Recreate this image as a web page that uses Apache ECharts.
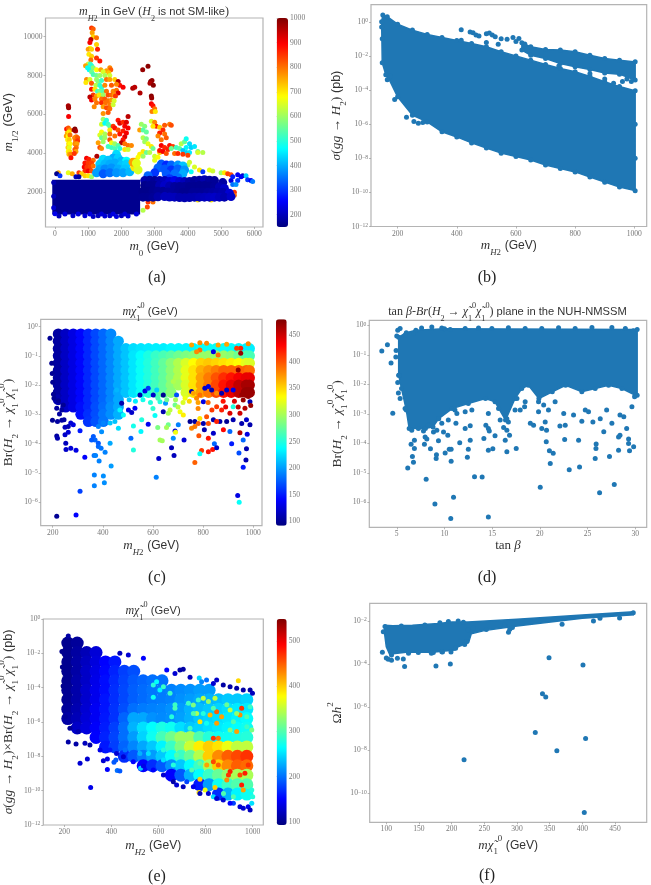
<!DOCTYPE html>
<html><head><meta charset="utf-8">
<style>html,body{margin:0;padding:0;background:#fff}#c{width:651px;height:885px;filter:blur(.45px)}</style>
<script src="https://cdn.jsdelivr.net/npm/echarts@6/dist/echarts.min.js"></script>
</head><body><div id="c"></div>
<script>
// ---------- tick labels ----------
const aTicksX=[0,1000,2000,3000,4000,5000,6000];
const aTicksY=[2000,4000,6000,8000,10000];
const aBarTicks=[200,300,400,500,600,700,800,900,1000];
const mTicks=[200,400,600,800,1000];
const bTicksY=[-12,-10,-8,-6,-4,-2,0];
const cTicksY=[-6,-5,-4,-3,-2,-1,0];
const cBarTicks=[100,150,200,250,300,350,400,450];
const dTicksX=[5,10,15,20,25,30];
const eBarTicks=[100,200,300,400,500];
const fTicksX=[100,150,200,250,300,350,400,450];
const fTicksY=[-10,-8,-6,-4,-2];

// ---------- panel (a): m0, m1/2, mH2 ----------
const aDots=[[400,6450,960],[410,6350,980],[405,6400,970],[410,5900,900],[350,5250,880],[400,5300,820],[450,5200,780],[370,5050,740],[420,5100,700],[340,4900,760],[400,4900,680],[450,4950,800],[380,4700,690],[430,4700,720],[410,4500,700],[450,4500,680],[390,4300,720],[430,4300,660],[400,4100,680],[440,4100,700],[420,3950,740],[470,3950,780],[480,3780,880],[600,5250,1000],[620,5150,950],[580,5200,980],[640,4850,800],[590,4800,780],[680,4800,820],[620,4650,800],[680,4650,850],[600,4500,780],[660,4500,760],[640,4300,800],[600,4200,820],[630,4100,760],[580,4000,850],
[1100,10450,850],[1150,10400,820],[1120,10200,760],[1150,10000,720],[1250,9950,800],[1080,9850,950],[1050,9700,900],[1250,9600,720],[1050,9400,680],[1000,9350,760],[1100,9350,720],[1280,9350,870],[1020,9100,700],[1100,9000,720],[1080,8800,800],[1250,8900,850],[1350,8750,880],[1000,8600,640],[1060,8600,520],[920,8500,760],[980,8400,480],[1100,8500,500],[1030,8300,470],[1150,8400,580],[1100,8200,560],[1250,8300,680],[1380,8300,760],[1650,8400,780],[1680,8300,820],[1550,8250,760],[1450,8200,650],[1620,8150,730],[1150,8050,530],[1250,8000,560],[1350,8000,600],[1500,8000,610],[1650,8000,640],[950,7800,780],[1050,7800,650],[1250,7800,600],[1300,7700,580],[1400,7750,520],[1550,7800,800],[1650,7800,760],[1800,7800,720],[930,7650,700],[1100,7600,820],[1230,7500,620],[1350,7500,510],[1400,7400,500],[1500,7500,780],[1700,7500,820],[1900,7700,950],[1950,7500,880],[1850,7550,780],[2050,7400,900],[1100,7300,880],[1200,7300,700],[1280,7200,520],[1350,7200,560],[1450,7200,540],[1550,7200,800],[1750,7200,780],[1850,7250,800],[1900,7100,920],[1150,7000,850],[1050,6900,950],[1250,6950,760],[1330,7000,700],[1450,7000,600],[1600,7000,830],[1700,7000,810],[1780,7000,770],[1820,6950,850],[1100,6750,900],[1200,6800,780],[1400,6800,800],[1500,6800,820],[1600,6700,800],[1700,6750,770],[1780,6700,650],[1250,6600,800],[1400,6600,860],[1520,6600,800],[1650,6500,790],[1750,6500,640],[1450,6400,760],[1550,6350,830],[1650,6300,800],[1180,6400,780],[1600,6100,820],[1450,6050,770],
[2640,8300,980],[2800,8480,990],[2880,7700,1000],[2920,7750,980],[2860,7600,960],[2960,7500,990],[2340,7350,960],[2400,7400,950],[2560,7100,960],[2900,6950,990],[2910,6850,980],[2900,6550,900],[2950,6450,880],[3000,6300,800],[2920,6150,790],[3020,6150,700],
[1450,5750,600],[1550,5700,500],[1400,5500,640],[1500,5550,470],[1600,5500,520],[1650,5400,540],[1750,5400,850],[1900,5700,880],[1950,5550,920],[2050,5600,860],[2150,5600,920],[2200,5900,950],[2100,5400,900],[1800,5300,880],[2200,5300,900],[1900,5200,830],[2050,5150,870],[2150,5050,900],[1950,5000,880],[1650,5200,700],[1400,5100,680],[1500,5000,610],[1350,4950,650],[1650,5000,800],[1800,4900,800],[2100,4850,920],[1400,4800,560],[1500,4800,600],[2050,4700,880],[2000,4550,950],[1450,4600,600],[1650,4700,830],[1700,4550,670],[1800,4500,600],[1900,4400,540],[2100,4500,800],[2200,4400,800],[2300,4400,780],[1350,4300,830],[1400,4250,780],[1600,4350,520],[1700,4300,520],[1800,4250,530],[1950,4250,500],[2100,4200,700],[2200,4200,640],[1300,4550,760],
[950,3750,900],[1020,3700,870],[1150,3650,800],[900,3500,880],[1000,3500,850],[1100,3500,840],[880,3300,900],[960,3300,850],[1060,3300,840],[1150,3350,800],[900,3100,860],[1000,3100,900],[1100,3100,830],[1260,3850,960],
[400,3000,660],[520,2950,750],[100,3000,750],[720,3000,850],[800,2950,720],[900,2850,720],[1000,2850,700],[1100,2800,600],[50,2950,160],[150,2850,300],[630,2800,200],[720,2800,180],
[2600,5500,600],[2700,5400,580],[2550,5200,760],[2650,5200,540],[2750,5100,550],[2900,5650,650],[3000,5600,780],[3050,5400,870],[2950,5400,700],[3150,5350,720],[3300,5450,820],[3450,5500,790],[3500,5450,830],[3250,5200,860],[3150,5050,870],[3300,5000,800],[3100,4900,780],[3350,4800,820],[3200,4700,800],[2650,4800,620],[2750,4750,570],[2700,4600,600],[2800,4500,660],[2900,4350,700],[2950,4250,560],[2650,4100,700],[2750,4050,560],[2850,4050,620],[2550,3950,690],[2650,3850,600],[2500,3800,680],[2400,3650,720],[3000,3850,640],[3100,3800,680],[3000,3650,660],[3150,4050,720],
[3200,4400,900],[3300,4300,860],[3150,4150,880],[3250,4100,900],[3400,4200,870],[3450,4400,880],[3550,4350,840],[3350,4000,830],[3600,4000,800],[3500,4250,560],[3650,4300,520],[3750,4250,540],[3800,4500,620],[3900,4600,560],[3950,4750,480],[4050,4500,440],[3950,4300,460],[4100,4300,430],[3850,4150,420],[3950,4050,430],[4050,4050,450],[4200,4350,450],[3700,4000,860],[3850,3950,850],[4000,3900,840],[4300,4100,560],[4450,4050,620],[4300,4050,650],
[4100,3050,480],[4200,3300,650],[4000,3400,600],[4050,3550,640],[4350,3150,700],[4450,3050,300],[4650,3150,660],[4750,3100,640],[5000,3000,600],[5100,3000,700],[5200,2950,840],[5300,2900,830],[5500,2900,250],[5650,2850,200],[5750,2850,430],[5800,2650,300],[5900,2600,250],[5950,2550,360],[5300,2600,230],[5500,2600,300],[5350,2400,350],[5450,2400,380],[5350,2800,280],[5600,2800,250],
[2800,1500,850],[2950,1500,800],[5400,2000,850],[5400,1850,800],[2650,1080,620],[2780,1250,830],[4300,1600,700],[4700,1600,700]];
const aBlobs=[[1850,3950,440],[1750,3750,400],[1900,3750,430],[1450,3700,440],[1600,3650,420],[2000,3600,410],[2150,3600,470],[1350,3450,430],[1500,3450,410],[1650,3450,400],[1800,3500,400],[2000,3400,420],[2150,3450,430],[1350,3200,400],[1500,3200,370],[1700,3250,380],[1900,3200,400],[2100,3200,420],[1250,3000,390],[1450,2950,330],[1650,3000,350],[1850,3000,380],[2050,3000,390],[2250,3050,410],[2400,3300,700],[2500,3150,650],[2350,3550,760],[2450,3500,660],
[3200,3450,330],[3350,3400,290],[3500,3400,340],[3700,3400,380],[3850,3350,420],[3100,3250,340],[3300,3200,330],[3500,3150,300],[3700,3200,340],[3900,3150,380],[3000,3000,300],[3350,2950,330],[3600,2950,350],[3850,2950,400],[2800,2850,340],[3450,2700,300],[3700,2750,350],
[2700,2600,190],[2850,2620,180],[3000,2600,170],[3150,2600,185],[3300,2600,200],[3450,2560,220],[3600,2600,240],[3750,2560,220],[3900,2550,200],[4050,2560,180],[4200,2600,170],[4350,2620,175],[4500,2650,190],[4650,2620,175],[4800,2600,170],[5050,2500,180],
[2700,2350,160],[2850,2350,165],[3000,2350,165],[3150,2350,190],[3300,2350,210],[3450,2320,190],[3600,2300,175],[3750,2300,170],[3900,2300,170],[4050,2300,165],[4200,2300,165],[4350,2350,165],[4500,2350,165],[4650,2320,165],[4800,2300,170],[4950,2280,190],[5100,2200,210],
[2650,2050,160],[2800,2050,160],[2950,2050,165],[3100,2050,170],[3250,2050,170],[3400,2020,175],[3550,2000,175],[3700,2000,170],[3850,2000,165],[4000,2000,165],[4150,2000,170],[4300,2000,170],[4450,2000,170],[4600,2000,175],[4750,2000,180],[4900,2000,185],[5050,2000,190],[5250,1950,220],
[2650,1750,165],[2800,1750,165],[2950,1750,170],[3100,1770,185],[3300,1780,200],[3450,1760,200],[3600,1750,200],[3750,1730,190],[3900,1720,190],[4050,1730,190],[4200,1750,190],[4350,1750,195],[4500,1750,200],[4650,1750,205],[4800,1750,210],[4950,1750,200],[5100,1750,190],[5300,1780,210]];
const aEdge=[[120,780,200],[540,800,210],[900,800,220],[1150,760,210],[1300,800,200],[1500,780,220],[1650,800,210],[1850,760,230],[2000,800,200],[2200,780,220],[300,880,230],[700,880,230],[1050,880,230],[1400,880,220],[1750,880,230],[2100,880,220],[2450,880,230],[0,900,240],[-40,1200,220],[-40,1800,200],[-40,2500,190]];
const aSolid=[[-60,2600],[2540,2600],[2540,900],[-60,900]];

// ---------- panel (b): mH2, log10 sigma ----------
const bMain=[[150,.4],[165,.3],[200,-.14],[250,-.49],[300,-.74],[350,-.92],[400,-1.1],[450,-1.27],[500,-1.47],[550,-1.76],[600,-2],[650,-2.25],[700,-2.5],[750,-2.74],[800,-2.93],[850,-3.2],[900,-3.52],[950,-3.8],[1003,-4.05],[1003,-9.9],[950,-9.69],[900,-9.4],[850,-9.1],[800,-8.8],[750,-8.6],[700,-8.4],[650,-8.1],[600,-7.9],[550,-7.7],[500,-7.4],[450,-7.1],[400,-6.75],[350,-6.45],[300,-5.87],[250,-5.48],[200,-4.4],[170,-3.33],[160,-3.1],[148,-2.4],[146,0]];
const bStrip=[[620,-1.23],[650,-1.47],[700,-1.62],[750,-1.66],[800,-1.76],[850,-1.96],[900,-2.15],[950,-2.25],[1003,-2.35],[1003,-3.42],[950,-3.07],[900,-3],[850,-2.8],[800,-2.64],[750,-2.45],[700,-2.15],[650,-1.96],[620,-1.66]];
const bDots=[[415,-.47],[445,-.6],[455,-.65],[465,-.78],[475,-.84],[500,-.7],[510,-.66],[520,-.78],[530,-.88],[550,-1],[570,-1.02],[590,-.92],[610,-.98],[600,-1.15],[630,-1.3],[500,-1.22],[540,-1.32],[415,-1.08],[230,-5.6],[255,-5.85],[270,-5.95],[285,-5.9],[175,-3.2],[190,-4.55],[165,-3.4],[745,-2.6],[850,-3.05],[960,-3.5],[975,-3.35],[990,-3.5],[900,-3.35],[930,-3.6],[1003,-6],[1003,-8],[148,-1],[146,-.3]];

// ---------- panel (c): mH2, log10 Br, m chi ----------
const cColumns=[222,252,282,312,342,372,402,432,462,492,522,552,582,612,642,672,702,732,762,792,822,852,882,912,942,972,985];
const cRows=[-.25,-.5,-.75,-1,-1.25,-1.5,-1.75,-2,-2.25,-2.5,-2.75,-3,-3.25];
const cTable=[
[105,118,130,142,155,168,180,192,0,0,0,0,0,0,0,0,0,0,0,0,0,0,0,0,0,0,0],
[105,118,130,142,155,168,180,192,205,0,0,0,0,0,0,0,0,0,0,0,0,0,0,0,0,0,0],
[105,118,130,142,155,168,180,192,205,215,225,228,230,232,232,235,235,235,235,240,240,240,240,238,235,232,232],
[105,118,130,142,155,168,180,192,205,215,228,238,248,258,265,272,280,285,290,295,295,295,295,290,280,270,265],
[105,118,130,142,155,168,180,192,205,215,228,240,250,262,275,290,305,320,335,350,355,350,345,340,335,325,320],
[105,118,130,142,155,168,180,192,205,215,228,240,250,262,275,290,305,325,345,365,375,385,395,395,395,395,390],
[105,118,130,142,155,168,180,192,205,215,228,240,250,262,275,290,305,325,345,370,385,400,415,425,435,440,440],
[105,118,130,142,155,168,180,192,205,215,228,240,250,262,275,290,300,320,345,370,385,405,425,440,455,465,465],
[105,118,130,142,155,168,180,192,205,215,228,240,250,262,275,290,0,320,345,370,385,405,425,440,455,470,470],
[110,118,130,142,155,168,180,192,205,0,0,0,0,0,0,0,0,0,0,0,0,0,0,0,0,0,0],
[0,120,130,145,155,170,182,195,205,0,0,0,0,0,0,0,0,0,0,0,0,0,0,0,0,0,0],
[0,0,0,145,158,170,185,195,208,0,0,0,0,0,0,0,0,0,0,0,0,0,0,0,0,0,0],
[0,0,0,0,160,172,185,0,0,0,0,0,0,0,0,0,0,0,0,0,0,0,0,0,0,0,0]];
const cDots=[[189,-.4,100],[196,-1.25,100],[198,-1.6,100],[200,-1.9,100],[203,-2.31,100],[205,-2.45,100],[223,-2.54,100],[242,-2.68,100],[216,-2.79,105],[236,-2.85,105],[227,-2.99,105],[199,-3.2,100],[219,-3.25,105],[236,-3.2,105],[245,-3.19,105],[262,-3.42,110],[249,-3.44,115],[282,-3.36,130],[272,-3.3,125],[216,-3.74,105],[219,-3.82,110],[252,-3.99,115],[262,-3.61,125],[249,-3.7,120],[309,-3.56,150],[253,-4.2,120],[272,-4.16,125],[293,-4.23,130],[328,-4.47,140],[362,-3.76,175],[369,-3.88,180],[355,-3.88,175],[382,-3.99,175],[382,-4.1,180],[393,-4.16,185],[409,-4.3,190],[365,-4.41,185],[371,-4.41,190],[385,-4.6,190],[433,-4.77,200],[366,-5.08,190],[402,-5.11,195],[366,-5.44,190],[406,-5.34,195],[309,-5.63,165],[216,-6.49,100],[293,-6.44,140],[382,-3.42,190],[402,-3.3,190],[429,-3.99,205],[395,-3.6,195],[462,-3.48,225],[448,-3.25,215],[429,-3.3,215],[482,-3.02,240],[512,-3.82,180],[522,-3.4,245],[522,-4.22,250],[468,-2.85,235],[455,-2.17,210],[475,-2.62,110],[502,-2.85,130],[528,-2.79,140],[548,-2.34,110],[568,-2.2,130],[581,-2.11,160],[515,-2.94,120],[555,-3.19,250],[581,-3.34,135],[552,-3.59,235],[608,-3.04,240],[619,-3.45,285],[615,-2.17,220],[601,-2.34,120],[641,-2.34,100],[650,-2.62,200],[628,-2.57,250],[641,-2.91,110],[661,-2.96,300],[668,-2.85,310],[688,-2.68,280],[708,-2.91,330],[721,-3.02,340],[661,-3.36,280],[654,-3.45,300],[628,-3.88,300],[637,-3.9,300],[613,-5.15,190],[623,-4.51,120],[674,-4.14,115],[684,-4.41,115],[681,-3.82,195],[688,-3.57,125],[690,-3.61,330],[701,-3.36,190],[724,-3.88,125],[681,-1.88,305],[694,-2.34,170],[728,-2.45,330],[754,-2.22,110],[761,-2.28,370],[774,-2.45,380],[787,-2.34,390],[807,-2.11,120],[821,-2.05,130],[834,-2.17,110],[854,-2.28,380],[874,-2.28,110],[894,-2.17,120],[920,-2.17,130],[801,-2.57,130],[854,-2.74,410],[874,-2.85,420],[907,-2.96,445],[947,-2.96,450],[967,-2.79,460],[954,-2.34,470],[980,-2.39,470],[960,-2.51,470],[987,-2.57,110],[920,-2.74,250],[748,-3.25,100],[767,-3.25,105],[801,-3.31,110],[841,-3.19,110],[867,-3.25,110],[894,-3.25,100],[920,-3.19,110],[954,-3.31,110],[987,-3.36,110],[973,-3.19,120],[787,-3.14,345],[814,-3.08,400],[821,-3.31,400],[781,-3.31,395],[754,-3.48,380],[767,-3.42,385],[805,-3.53,110],[854,-3.25,420],[881,-3.53,430],[907,-3.59,180],[947,-3.63,460],[976,-3.68,130],[960,-3.88,180],[841,-3.65,120],[821,-3.82,425],[783,-3.73,400],[845,-4.01,180],[794,-4.24,410],[821,-4.28,425],[838,-4.2,425],[854,-4.14,120],[914,-4.01,150],[787,-4.35,240],[767,-4.65,395],[943,-4.32,170],[973,-4.18,110],[971,-4.56,110],[960,-4.81,150],[938,-5.78,130],[944,-6.01,240],[950,-.74,420],[950,-.91,470],[934,-.74,410],[787,-.55,380],[754,-.63,370],[814,-.57,380],[860,-.63,370],[894,-.6,370],[980,-.59,380],[787,-.8,390],[860,-.97,390],[841,-.86,130],[940,-1.48,470],[774,-.86,380],
[505,-2.5,218],[530,-2.55,232],[560,-2.5,245],[590,-2.6,250],[620,-2.45,265],[655,-2.5,280],[690,-2.5,300],[720,-2.6,320],[745,-2.55,350],[780,-2.6,370],[820,-2.6,390],[880,-2.55,425],[925,-2.55,445],[990,-2.7,470],[600,-2.8,255],[700,-2.75,310],[780,-2.8,380],[835,-2.85,410],[890,-2.75,440],[940,-2.75,455]];

// ---------- panel (d): tan beta, log10 Br ----------
const dMain=[[5.2,-.4],[6,-.25],[7,-.17],[10,-.12],[30.2,-.14],[30.2,-2.37],[30,-2.37],[28.6,-2.14],[27.2,-2.03],[25.8,-2.14],[24.4,-2.25],[22.7,-2.03],[21.3,-2.25],[19.9,-2.48],[18.8,-2.03],[18.1,-2.14],[17.4,-2.48],[16.4,-3.21],[15.3,-2.59],[14.3,-2.48],[12.5,-2.65],[10.8,-2.82],[9.4,-3.16],[8.8,-3.44],[8,-3.49],[6.3,-3.49],[6,-2.87],[5.5,-2.14],[5.2,-1.69]];
const dDots=[[3.43,-.87],[4.02,-.66],[4.4,-1.28],[4.58,-2.98],[5.35,-.11],[5.1,-.17],[5,-.36],[4.93,-.85],[4.9,-1.07],[5.1,-1.94],[5.24,-1.69],[5.17,-2.29],[5.35,-2.48],[5.87,-2.82],[6.15,-4.83],[6.5,-4.03],[6.64,-4.44],[6.75,-4.64],[6.85,-4.17],[6.85,-3.89],[7.8,-3.58],[7.9,-4.03],[7.97,-3.78],[8.15,-3.85],[8.08,-5.21],[8.53,-4.18],[9,-6.05],[9.13,-4.51],[9.16,-4.38],[9.37,-3.91],[8.85,-3.61],[9.2,-3.55],[9.9,-3.61],[10.07,-4.32],[10.5,-4.2],[10.7,-4.2],[10.7,-4.6],[10.35,-3.72],[10.66,-6.54],[10.95,-5.82],[11.6,-3.98],[11.2,-3.32],[11.3,-2.99],[12.4,-4.47],[12.5,-4.2],[12.7,-3.89],[12.17,-3.49],[12.7,-3.4],[13.15,-5.13],[13.95,-5.14],[14.13,-3.83],[14.34,-3.38],[14.6,-3.49],[14.7,-3.58],[14.6,-4.23],[15.07,-4.18],[14.6,-6.49],[15.3,-3.74],[14.6,-2.99],[15.84,-3.21],[16.2,-3.46],[16.37,-3.89],[16.54,-4.28],[16.82,-3.72],[16.54,-3.55],[17.52,-4.17],[17.4,-2.87],[17.94,-2.87],[18.4,-2.76],[19,-3.32],[19.34,-3.38],[20.04,-5.48],[20.2,-3.49],[20.56,-3.27],[20.7,-3.55],[20.67,-3.94],[21,-4.25],[21.09,-4.68],[21.4,-4.33],[20.9,-2.87],[19.86,-2.93],[22.1,-3.41],[22.5,-2.99],[22.6,-3.87],[22.66,-3.38],[23.08,-4.89],[24.06,-3.89],[24.16,-4.8],[23.53,-3.04],[24.4,-3.25],[25.1,-2.93],[25.56,-3.27],[25.8,-4.51],[25.9,-4.02],[25.88,-4.17],[26.26,-5.67],[26.33,-3.16],[26.7,-3.6],[27.3,-4.44],[27.8,-5.39],[27.55,-3.32],[28.25,-4.23],[28.4,-3.72],[28.25,-3.78],[29.1,-3.49],[29.3,-3.85],[29.3,-4],[29.4,-4.25],[29.83,-4.11],[28.4,-3.04],[28.8,-3.1],[29.65,-2.76],[29.93,-2.42],[27,-2.87],[24.76,-2.87],[21.6,-2.59],[20.4,-2.7],[19.86,-2.59],[18.46,-2.59],[17.6,-2.48],[15.67,-2.82],[16.54,-3.16],[16.7,-3.27],[12.87,-2.87],[12.17,-2.93],[11.1,-2.87],[10.4,-3.21],[9.72,-3.32],[6.57,-3.55],[7.27,-3.49],[8.3,-3.38],[7.6,-.09],[8.67,-.06],[9.72,-.09],[10.6,-.14],[12.17,-.11],[13.57,-.09],[14.97,-.11],[16.7,-.08],[18.46,-.11],[20.2,-.11],[21.96,-.08],[23.7,-.11],[25.46,-.07],[27.55,-.07],[28.96,-.11],[29.8,-.18],[5.87,-.34],[6.75,-.28]];

// ---------- panel (e): mH2, log10 sigma*Br, m chi ----------
const eColumns=[215,255,295,335,375,415,455,495,535,575,615,655,695,735,775,815,855,895,935,975];
const eRows=[-1.4,-1.95,-2.5,-3.05,-3.6,-4.15,-4.7,-5.25,-5.8,-6.35,-6.9,-7.45,-8,-8.55,-9.1,-9.65,-10.2];
const eTable=[
[100,105,0,0,0,0,0,0,0,0,0,0,0,0,0,0,0,0,0,0],
[100,108,118,132,0,0,0,0,0,0,0,0,0,0,0,0,0,0,0,0],
[100,110,122,135,150,160,0,0,0,0,0,0,0,0,0,0,0,0,0,0],
[100,110,125,138,152,165,178,185,0,0,0,0,0,0,0,0,0,0,0,0],
[100,112,125,140,155,168,180,190,195,200,200,0,0,0,0,0,0,0,0,0],
[102,112,128,142,155,170,182,192,198,203,205,208,212,215,220,220,0,0,0,0],
[102,112,128,142,158,170,182,192,198,203,205,208,215,220,225,230,235,240,240,245],
[105,115,130,145,158,172,185,200,205,208,210,215,220,230,235,240,245,250,255,255],
[110,118,132,145,160,172,195,225,225,215,212,215,222,230,240,245,250,255,260,265],
[0,125,135,148,162,178,200,230,250,265,275,270,250,240,245,250,255,260,265,270],
[0,0,0,150,165,180,200,220,245,270,295,315,335,335,300,280,270,270,275,280],
[0,0,0,0,160,178,195,210,225,240,260,290,320,355,385,400,390,370,350,350],
[0,0,0,0,0,0,170,190,205,220,240,265,290,310,345,400,430,450,460,470],
[0,0,0,0,0,0,0,0,150,170,190,215,240,265,290,340,400,430,450,445],
[0,0,0,0,0,0,0,0,0,0,0,150,190,230,265,290,310,330,340,340],
[0,0,0,0,0,0,0,0,0,0,0,0,0,0,160,220,270,290,300,300],
[0,0,0,0,0,0,0,0,0,0,0,0,0,0,0,0,170,230,260,270]];
const eDots=[[217,-7.17,110],[250,-7.28,110],[267,-8.41,130],[298,-8.16,130],[312,-9.81,140],[383,-8.76,150],[366,-8.25,130],[383,-8.16,140],[411,-8.35,190],[419,-8.21,190],[425,-8.82,200],[436,-8.86,190],[524,-8.7,240],[309,-7.34,110],[288,-7.24,120],[224,-6.37,105],[259,-6.56,115],[352,-7.63,140],[394,-7.63,160],[458,-7.63,200],[521,-7.83,230],[557,-7.83,250],[217,-.99,110],[691,-2.97,110],[705,-2.93,110],[670,-3.17,130],[773,-3.44,245],[939,-3.59,395],[875,-3.85,110],[904,-3.94,110],[932,-4.04,110],[960,-4.14,110],[989,-4.14,110],[999,-4.33,120],[847,-3.55,125],[833,-3.75,130],[783,-3.65,210],[804,-3.55,200],[734,-3.4,120],[635,-2.97,150],[536,-2.29,150],[472,-2.1,130],[436,-2,120],[190,-1.9,100],[192,-2.8,100],[195,-3.9,100],[205,-5.7,105],
[578,-3.85,280],[578,-4.56,270],[592,-3.65,265],[621,-3.94,290],[606,-4.14,260],[649,-4.33,290],[670,-5,290],[656,-5.69,280],[670,-5.2,295],[727,-4.91,290],[748,-5.01,320],[769,-4.72,290],[790,-4.62,350],[812,-4.81,330],[840,-4.62,350],[762,-5.5,340],[776,-5.98,390],[819,-5.59,410],[847,-5.4,450],[868,-5.69,420],[904,-5.3,350],[953,-5.2,470],[946,-5.59,430],[932,-6.56,420],[847,-6.08,420],[854,-6.95,440],[833,-6.95,470],[734,-6.37,290],[918,-5.98,300],[975,-5.69,300],[989,-5.11,290],[996,-6.47,320],[890,-5,310],[833,-5.2,300],[790,-5.5,280],[975,-6.27,290],[804,-6.08,270],[748,-5.5,300],[932,-5.5,330],[904,-6.47,320],
[904,-8.89,480],[897,-9.09,470],[967,-8.99,480],[946,-9.09,460],[981,-8.5,470],[833,-8.31,460],[805,-8.5,420],[854,-8.5,450],[890,-9.38,430],[776,-9.34,400],[772,-10.1,390],[798,-9.96,370],[840,-9.81,400],[953,-9.67,480],[960,-9.96,420],[981,-9.77,300],[918,-10.35,300],[876,-10.16,300],[833,-10.35,250],[918,-10.74,180],[981,-10.93,140],[989,-11.13,120],[960,-11.03,130],[904,-10.74,150],[847,-10.45,130],[776,-10.16,120],[705,-9.77,120],[663,-9.48,110],[621,-9.09,130],[578,-8.8,150],[536,-8.56,140],[493,-8.31,150],[451,-8.02,130],[422,-7.83,130],[677,-9.67,130],[720,-9.48,180],[748,-9.77,140],[812,-10.16,130],[875,-10.55,130],[946,-10.93,130],[996,-10.74,250],[1000,-10.35,280],[996,-9.96,280],[663,-8.5,280],[621,-8.21,250],[677,-7.92,300],[741,-8.8,300],[776,-8.41,310],[621,-7.63,280]];

// ---------- panel (f): m chi, log10 Omega h2 ----------
const fMain=[[98,-2.2],[110,-2.22],[140,-2.2],[180,-2.12],[200,-2.05],[225,-2.05],[300,-1.92],[400,-1.72],[478,-1.57],[478,-1.72],[400,-1.88],[300,-2.23],[250,-2.45],[230,-2.6],[226,-3],[210,-3.2],[205,-3.35],[170,-3.45],[130,-3.45],[105,-3.55],[100,-3.2],[97,-2.5]];
const fDots=[[94,-3.46],[100,-3.72],[103,-3.78],[108,-3.83],[117,-3.74],[126,-3.77],[128,-4.12],[176,-4.09],[198,-4],[186,-3.44],[199,-3.44],[172,-3.47],[206,-3.27],[219,-8.45],[253,-2.4],[287,-2.53],[289,-2.39],[293,-2.31],[349,-3.71],[339,-5.38],[344,-5.53],[328,-7.18],[361,-8.03],[401,-4.05],[405,-7.47],[403,-10.91],[369,-2.15],[417,-2],[427,-1.88],[457,-1.86],[225,-2.42],[233,-2.34],[281,-2.19],[95.4,-2.5],[98,-2.26],[123,-2.23],[159,-2.19],[182,-2.08],[195,-2.03],[210,-2],[218,-2.06],[108,-3.58],[134,-3.5],[149,-3.47],[169,-3.5],[185,-3.43],[220,-3.1],[223,-2.96],[478,-1.62]];

// ---------- styling ----------
const SERIF='"Liberation Serif","DejaVu Serif",serif', SANS='"Liberation Sans",sans-serif';
const BLUE='#1f77b4', TICK='#777', INK='#333', FRAME='#b4b4b4';
const JET=['#00007f','#0000ff','#007fff','#00ffff','#7fff7f','#ffff00','#ff7f00','#ff0000','#7f0000'];
const rich=f=>({
  i:{fontFamily:SERIF,fontStyle:'italic',fontWeight:'normal',fontSize:f,color:INK,lineHeight:f*1.7},
  r:{fontFamily:SERIF,fontWeight:'normal',fontSize:f,color:INK,lineHeight:f*1.7},
  g:{fontFamily:SANS,fontWeight:'normal',fontSize:f*.93,color:INK,lineHeight:f*1.7},
  b:{fontFamily:SERIF,fontStyle:'italic',fontWeight:'normal',fontSize:f*.68,color:INK,verticalAlign:'bottom',lineHeight:f*.95},
  n:{fontFamily:SERIF,fontWeight:'normal',fontSize:f*.68,color:INK,verticalAlign:'bottom',lineHeight:f*.95},
  u:{fontFamily:SERIF,fontWeight:'normal',fontSize:f*.68,color:INK,verticalAlign:'top',lineHeight:f*.95}
});
const chi='{i|χ\u0303}{n|1}{u|0}', mH='{i|m}{b|H}{n|2}', mChi='{i|m}{i|χ\u0303}{n|1}{u|0}';
const GEV='{g|(GeV)}';
const powLabel=v=>{const e=Math.round(Math.log10(v));return '10{s|'+(e<0?'−':'')+Math.abs(e)+'}';};
const plain=v=>String(v);
const tickRich={s:{fontFamily:SERIF,fontSize:5.6,color:TICK,verticalAlign:'top',lineHeight:7}};

const grids=[],xAxes=[],yAxes=[],series=[],visualMaps=[],titles=[];
function panel(g,xr,yr,xT,yT,xName,xPos,yName,yPos,logY){
  const i=grids.length;
  grids.push({left:g[0],top:g[1],width:g[2],height:g[3],show:true,borderColor:FRAME,borderWidth:1.2,backgroundColor:'#fff',outerBoundsMode:'none',containLabel:false});
  xAxes.push({type:'value',gridIndex:i,min:xr[0],max:xr[1],splitLine:{show:false},axisLine:{show:false,onZero:false},
    axisTick:{length:2,inside:false,lineStyle:{color:'#999',width:.7},customValues:xT},
    axisLabel:{customValues:xT,formatter:plain,fontFamily:SERIF,fontSize:7.6,color:TICK,margin:3},
    name:xName,nameLocation:'middle',nameGap:xPos-(g[1]+g[3])-10,nameTextStyle:{rich:rich(13),fontSize:13}});
  const yy={gridIndex:i,splitLine:{show:false},axisLine:{show:false,onZero:false},
    name:yName,nameLocation:'middle',nameRotate:90,nameGap:g[0]-yPos-11,nameTextStyle:{rich:rich(13.5),fontSize:13.5}};
  if(logY){
    Object.assign(yy,{type:'log',logBase:10,min:Math.pow(10,yr[0]),max:Math.pow(10,yr[1]),
      axisTick:{length:2,lineStyle:{color:'#999',width:.7},customValues:yT.map(e=>Math.pow(10,e))},
      axisLabel:{customValues:yT.map(e=>Math.pow(10,e)),fontFamily:SERIF,fontSize:7.6,color:TICK,margin:3,rich:tickRich,formatter:powLabel}});
  }else{
    Object.assign(yy,{type:'value',min:yr[0],max:yr[1],
      axisTick:{length:2,lineStyle:{color:'#999',width:.7},customValues:yT},
      axisLabel:{customValues:yT,formatter:plain,fontFamily:SERIF,fontSize:7.6,color:TICK,margin:3}});
  }
  yAxes.push(yy);
  return i;
}
function colorbar(g,r,ticks,idx){
  const i=grids.length;
  grids.push({left:g[0],top:g[1],width:g[2],height:g[3],show:false,outerBoundsMode:'none'});
  xAxes.push({type:'value',gridIndex:i,show:false,min:0,max:1});
  yAxes.push({type:'value',gridIndex:i,position:'right',min:r[0],max:r[1],splitLine:{show:false},axisLine:{show:false},
    axisTick:{length:2,lineStyle:{color:'#999',width:.7},customValues:ticks},
    axisLabel:{customValues:ticks,formatter:plain,fontFamily:SERIF,fontSize:7.6,color:TICK,margin:2}});
  visualMaps.push({type:'continuous',min:r[0],max:r[1],dimension:2,seriesIndex:idx,inRange:{color:JET},
    left:g[0],top:g[1],itemWidth:g[2],itemHeight:g[3],padding:0,text:['',''],textGap:0,calculable:false,hoverLink:false,realtime:false,itemGap:0});
}
const lift=a=>a.map(p=>p.length>2?[p[0],Math.pow(10,p[1]),p[2]]:[p[0],Math.pow(10,p[1])]);
function dots(i,data,size,color){
  const s={type:'scatter',xAxisIndex:i,yAxisIndex:i,data,symbolSize:size,silent:true,animation:false,clip:false,large:false,itemStyle:{opacity:1}};
  if(color)s.itemStyle.color=color;
  series.push(s);return series.length-1;
}
function area(i,points,color){
  series.push({type:'custom',xAxisIndex:i,yAxisIndex:i,data:points,silent:true,animation:false,clip:false,
    encode:{x:0,y:1},
    renderItem:(p,api)=>{
      if(p.dataIndex!==0)return;
      return {type:'polygon',shape:{points:points.map(q=>api.coord(q))},style:{fill:color,stroke:color,lineWidth:1.5}};
    }});
}
function tableDots(cols,rows,table){
  const out=[];
  rows.forEach((e,r)=>cols.forEach((x,c)=>{if(table[r][c])out.push([x,Math.pow(10,e),table[r][c]]);}));
  return out;
}
function title(text,cx,y){titles.push({text,left:cx,top:y,textAlign:'center',padding:0,textStyle:{rich:rich(12),fontSize:12,fontWeight:'normal'}});}
function caption(text,cx,y){titles.push({text,left:cx,top:y,textAlign:'center',padding:0,textStyle:{fontFamily:SERIF,fontSize:16,fontWeight:'normal',color:'#222'}});}

// (a)
let i=panel([45.5,18,217.5,209],[-286,6262],[216,10960],aTicksX,aTicksY,'{i|m}{n|0} '+GEV,246,'{i|m}{n|1/2} '+GEV,15,false);
const a1=dots(i,aDots,5),a2=dots(i,aBlobs,9);
area(i,aSolid,'#00008f');
const a3=dots(i,aEdge,5);
colorbar([276.7,18,11.3,209],[150,1000],aBarTicks,[a1,a2,a3]);
// (b)
i=panel([371,4.7,275.7,221.8],[110,1042],[-12,1],mTicks,bTicksY,mH+' '+GEV,245,'{i|σ}{r|(}{i|gg}{r| → }{i|H}{n|2}{r|)} {g|(pb)}',342,true);
area(i,lift(bMain),BLUE);area(i,lift(bStrip),BLUE);
dots(i,lift(bMain),5,BLUE);dots(i,lift(bStrip),5,BLUE);dots(i,lift(bDots),5,BLUE);
// (c)
i=panel([40.7,319.3,221.3,206.4],[152,1035],[-6.81,.25],mTicks,cTicksY,mH+' '+GEV,545,'{r|Br(}{i|H}{n|2}{r| → }'+chi+chi+'{r|)}',11,true);
const c1=dots(i,tableDots(cColumns,cRows,cTable),11),c2=dots(i,lift(cDots),5);
colorbar([276,319.3,10.7,206.4],[92,480],cBarTicks,[c1,c2]);
// (d)
i=panel([369.3,320.3,277.4,207],[2.12,31.2],[-6.84,.17],dTicksX,cTicksY,'{r|tan }{i|β}',545,'{r|Br(}{i|H}{n|2}{r| → }'+chi+chi+'{r|)}',341,true);
area(i,lift(dMain),BLUE);
dots(i,lift(dMain),5,BLUE);dots(i,lift(dDots),5,BLUE);
// (e)
i=panel([43.3,619,220,206],[111,1045],[-12,0],mTicks,bTicksY,mH+' '+GEV,845,'{i|σ}{r|(}{i|gg}{r| → }{i|H}{n|2}{r|)×Br(}{i|H}{n|2}{r| → }'+chi+chi+'{r|)} {g|(pb)}',12,true);
const e1=dots(i,tableDots(eColumns,eRows,eTable),13),e2=dots(i,lift(eDots),5);
colorbar([276.7,619,10,206],[93,549],eBarTicks,[e1,e2]);
// (f)
i=panel([369.7,603.3,277,219],[74.6,498.5],[-11.36,-1.18],fTicksX,fTicksY,mChi+' '+GEV,842,'{r|Ω}{i|h}{u|2}',338,true);
area(i,lift(fMain),BLUE);
dots(i,lift(fDots),5,BLUE);

title(mH+'{r| in }{g|GeV}{r| (}{i|H}{n|2}{r| }{g|is not SM-like}{r|)}',154,2);
title(mChi+' '+GEV,150,302);
title('{r|tan }{i|β}{r|-}{i|Br}{r|(}{i|H}{n|2}{r| → }'+chi+chi+'{r|) }{g|plane in the NUH-NMSSM}',507.5,302);
title(mChi+' '+GEV,153,601);
caption('(a)',157,270);caption('(b)',487,270);caption('(c)',157,570);caption('(d)',487,570);caption('(e)',157,869);caption('(f)',487,868);

const chart=echarts.init(document.getElementById('c'),null,{renderer:'canvas'});
chart.setOption({animation:false,backgroundColor:'#fff',title:titles,grid:grids,xAxis:xAxes,yAxis:yAxes,visualMap:visualMaps,series});
</script></body></html>
